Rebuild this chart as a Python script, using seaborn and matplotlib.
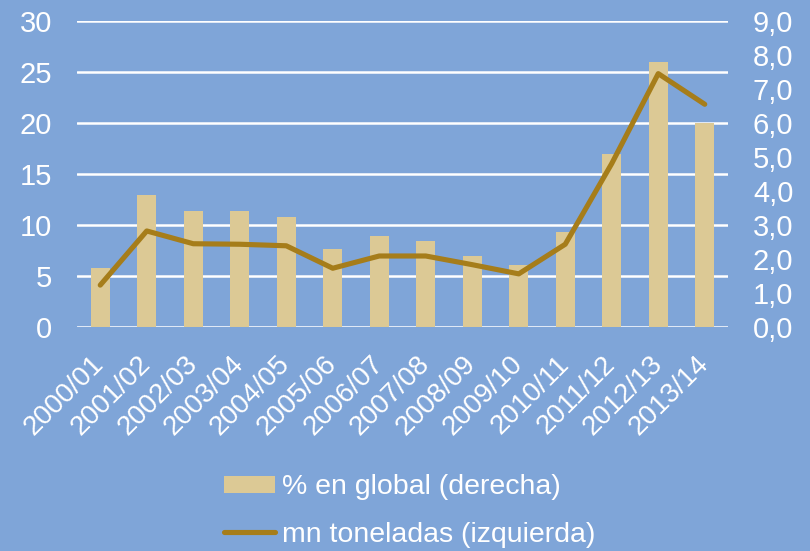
import numpy as np
import matplotlib
matplotlib.use("Agg")
import matplotlib.pyplot as plt
from matplotlib.patches import Patch
from matplotlib.lines import Line2D
import seaborn as sns

# ================= datos =================
campanas = ["2000/01", "2001/02", "2002/03", "2003/04", "2004/05", "2005/06", "2006/07",
            "2007/08", "2008/09", "2009/10", "2010/11", "2011/12", "2012/13", "2013/14"]
# % en global (eje derecho)
pct_global = [1.74, 3.87, 3.42, 3.41, 3.23, 2.28, 2.67, 2.52, 2.09, 1.83, 2.78, 5.07, 7.77, 6.00]
# mn toneladas (eje izquierdo)
mn_toneladas = [4.1, 9.4, 8.15, 8.1, 7.95, 5.75, 6.95, 6.95, 6.1, 5.2, 8.1, 16.0, 24.8, 21.8]

left_ticks = [0, 5, 10, 15, 20, 25, 30]
right_ticks = [0, 1, 2, 3, 4, 5, 6, 7, 8, 9]

BG = "#7FA5D8"
BAR = "#DCC995"
LINE = "#A67D1A"

sns.set_style("white")
plt.rcParams["font.family"] = ["Liberation Sans", "DejaVu Sans"]

fig = plt.figure(figsize=(8.1, 5.51), dpi=100, facecolor=BG)
ax = fig.add_axes([77 / 810, 1 - 327 / 551, (728 - 77) / 810, (327 - 20.5) / 551])
ax2 = ax.twinx()

# barras detras, linea delante
ax.set_zorder(2)
ax.patch.set_visible(False)
ax2.set_zorder(1)
ax2.patch.set_facecolor(BG)

x = np.arange(len(campanas))
sns.barplot(x=x, y=pct_global, ax=ax2, color=BAR, width=0.4, saturation=1,
            native_scale=True, linewidth=0, edgecolor="none", zorder=2)
sns.lineplot(x=x, y=mn_toneladas, ax=ax, color=LINE, linewidth=3.7,
             solid_capstyle="round", solid_joinstyle="round", zorder=3)

ax.set_xlim(-0.5, len(campanas) - 0.5)
ax.set_ylim(0, 30)
ax2.set_ylim(0, 9)

# rejilla alineada con el eje izquierdo
ax2.yaxis.remove_overlapping_locs = False
ax2.set_yticks([v * 9 / 30 for v in left_ticks], minor=True)
ax2.grid(True, which="minor", axis="y", color="white", linewidth=1.8, zorder=0)
ax2.grid(False, which="major")
ax2.set_axisbelow(True)
ax2.tick_params(axis="y", which="minor", length=0)

ax.set_yticks(left_ticks)
ax.set_yticklabels([str(v) for v in left_ticks])
ax2.set_yticks(right_ticks)
ax2.set_yticklabels([f"{v},0" for v in right_ticks])

ax.set_xticks(x)
ax.set_xticklabels(campanas, rotation=45, ha="right", va="center", rotation_mode="anchor")

for a in (ax, ax2):
    for s in a.spines.values():
        s.set_visible(False)
    a.set_xlabel("")
    a.set_ylabel("")
ax.tick_params(axis="y", length=0, pad=18, labelsize=21, labelcolor="white")
ax2.tick_params(axis="y", which="major", length=0, pad=18, labelsize=21, labelcolor="white")
ax.tick_params(axis="x", length=0, pad=24, labelsize=20, labelcolor="white")
ax2.tick_params(axis="x", length=0, labelbottom=False)

handles = [Patch(facecolor=BAR, edgecolor="none"),
           Line2D([0], [0], color=LINE, linewidth=3.7, solid_capstyle="round")]
labels = ["% en global (derecha)", "mn toneladas (izquierda)"]
fig.legend(handles, labels, loc="center", bbox_to_anchor=(410 / 810, 1 - 511 / 551),
           frameon=False, fontsize=20.5, labelcolor="white", handlelength=1.8,
           handleheight=0.55, handletextpad=0.25, labelspacing=0.75, borderpad=0,
           borderaxespad=0)

fig.savefig("out.png", dpi=100, facecolor=BG)
